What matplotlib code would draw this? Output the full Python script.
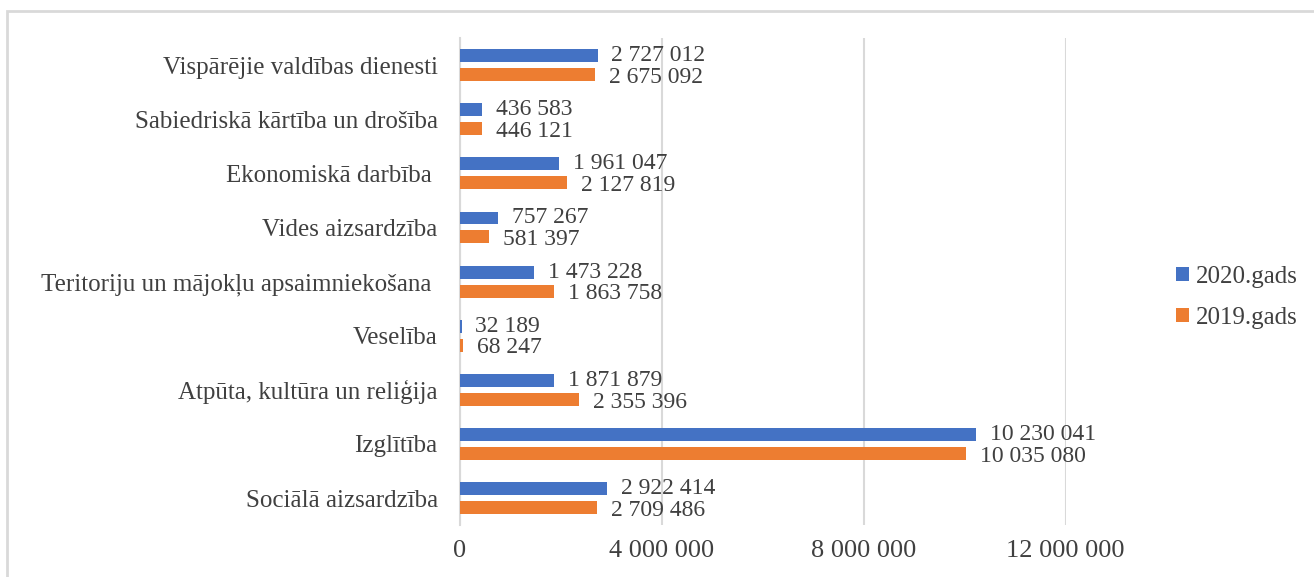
import matplotlib.pyplot as plt
from matplotlib.patches import Rectangle
import numpy as np

# categories listed top to bottom as in the chart
categories = [
    "Vispārējie valdības dienesti",
    "Sabiedriskā kārtība un drošība",
    "Ekonomiskā darbība ",
    "Vides aizsardzība",
    "Teritoriju un mājokļu apsaimniekošana ",
    "Veselība",
    "Atpūta, kultūra un reliģija",
    "Izglītība",
    "Sociālā aizsardzība",
]
values_2020 = [2727012, 436583, 1961047, 757267, 1473228, 32189, 1871879, 10230041, 2922414]
values_2019 = [2675092, 446121, 2127819, 581397, 1863758, 68247, 2355396, 10035080, 2709486]
x_ticks = [0, 4000000, 8000000, 12000000]

blue = "#4472C4"
orange = "#ED7D31"
text_col = "#404040"
grid_col = "#d9d9d9"

plt.rcParams['font.family'] = ['Liberation Serif', 'DejaVu Serif']

def fmt(v):
    return "{:,}".format(v).replace(",", " ")

fig = plt.figure(figsize=(13.14, 5.77), dpi=100)
ax = fig.add_axes([0.350, 0.090, 0.461, 0.844])

y = np.arange(len(categories))[::-1]
h = 0.24
off = 0.175
bars20 = ax.barh(y + off, values_2020, height=h, color=blue, label="2020.gads", zorder=3)
bars19 = ax.barh(y - off, values_2019, height=h, color=orange, label="2019.gads", zorder=3)

for bars, vals, dy in ((bars20, values_2020, 0), (bars19, values_2019, -2)):
    for b, v in zip(bars, vals):
        ax.annotate(fmt(v), (b.get_width(), b.get_y() + b.get_height() / 2),
                    xytext=(10, dy), textcoords="offset points",
                    ha="left", va="center", fontsize=17, color=text_col)

ax.set_yticks(y)
ax.set_yticklabels(categories, fontsize=18, color=text_col)
ax.set_ylim(-0.5, len(categories) - 0.5)
ax.set_xlim(0, 12000000)
ax.set_xticks(x_ticks)
ax.set_xticklabels([fmt(t) for t in x_ticks], fontsize=19, color=text_col)
ax.tick_params(axis="both", length=0)
ax.tick_params(axis="x", pad=11)
ax.tick_params(axis="y", pad=16)
ax.grid(axis="x", color=grid_col, linewidth=1.5, zorder=0)
for s in ("top", "right", "bottom"):
    ax.spines[s].set_visible(False)
ax.spines["left"].set_color(grid_col)
ax.spines["left"].set_linewidth(1.5)

ax.legend(loc="center left", bbox_to_anchor=(0.878, 0.485), bbox_transform=fig.transFigure,
          frameon=False, fontsize=18, handlelength=0.5, handleheight=0.5,
          handletextpad=0.3, labelspacing=0.75, labelcolor=text_col)

# outer chart border (right and bottom edges fall outside the picture)
fig.add_artist(Rectangle((7 / 1314, -0.1), 1.2, 1.1 - 11 / 577, transform=fig.transFigure,
                         fill=False, edgecolor=grid_col, linewidth=2))

fig.savefig("out.png", dpi=100)
